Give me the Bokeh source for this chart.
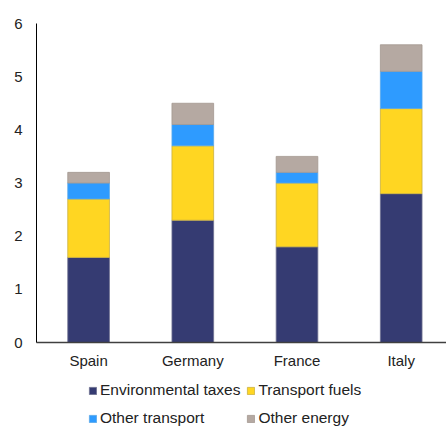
from bokeh.plotting import figure
from bokeh.layouts import column
from bokeh.models import ColumnDataSource, Range1d, FixedTicker, Legend, LegendItem
from bokeh.embed import file_html
from bokeh.resources import INLINE

countries = ["Spain", "Germany", "France", "Italy"]
env_taxes = [1.6, 2.3, 1.8, 2.8]
transport_fuels = [1.1, 1.4, 1.2, 1.6]
other_transport = [0.3, 0.4, 0.2, 0.7]
other_energy = [0.2, 0.4, 0.3, 0.5]
series = ["Environmental taxes", "Transport fuels", "Other transport", "Other energy"]
colors = ["#353B72", "#FFD622", "#2E9BFF", "#B5A9A2"]
line_colors = ["#6E7190", "#C9B040", "#5AA8E8", "#A39890"]
y_ticks = [0, 1, 2, 3, 4, 5, 6]

xpos = list(range(len(countries)))
src = ColumnDataSource(dict(x=xpos, env=env_taxes, fuels=transport_fuels,
                            otr=other_transport, oen=other_energy))

p = figure(width=446, height=371, output_backend="svg", toolbar_location=None,
           x_range=Range1d(-0.5, -0.5 + 410 / 104.2), y_range=Range1d(0, 6),
           min_border_left=36, min_border_right=0, min_border_top=23,
           min_border_bottom=29)

renderers = p.vbar_stack(["env", "fuels", "otr", "oen"], x="x", width=0.4,
                         source=src, color=colors, line_color=line_colors,
                         line_width=0.8)
for r, lc in zip(renderers, line_colors):
    r.glyph.line_color = lc

p.xgrid.visible = False
p.ygrid.visible = False
p.outline_line_color = None
p.background_fill_color = "white"
p.border_fill_color = "white"

font = "Liberation Sans"
ya = p.yaxis[0]
ya.ticker = FixedTicker(ticks=y_ticks)
ya.axis_line_color = "#000000"
ya.axis_line_width = 1
ya.major_tick_line_color = None
ya.minor_tick_line_color = None
ya.major_tick_out = 0
ya.major_tick_in = 0
ya.major_label_standoff = 14
ya.major_label_text_font = font
ya.major_label_text_font_size = "15px"
ya.major_label_text_color = "#222222"

xa = p.xaxis[0]
xa.ticker = FixedTicker(ticks=xpos)
xa.major_label_overrides = {i: c for i, c in enumerate(countries)}
xa.axis_line_color = "#404040"
xa.axis_line_width = 1.3
xa.major_tick_line_color = None
xa.minor_tick_line_color = None
xa.major_tick_out = 0
xa.major_tick_in = 0
xa.major_label_standoff = 9
xa.major_label_text_font = font
xa.major_label_text_font_size = "15px"
xa.major_label_text_color = "#222222"

# legend panel below the chart
lp = figure(width=446, height=58, output_backend="svg", toolbar_location=None,
            x_range=Range1d(0, 1), y_range=Range1d(0, 1),
            x_axis_location=None, y_axis_location=None,
            min_border=0)
lp.xgrid.visible = False
lp.ygrid.visible = False
lp.outline_line_color = None
offscreen = ColumnDataSource(dict(x=[10], top=[0.5]))
leg_renderers = [lp.vbar(x="x", top="top", width=0.1, source=offscreen,
                         fill_color=c, line_color=lc, line_width=0.8)
                 for c, lc in zip(colors, line_colors)]

items = [LegendItem(label=s, renderers=[r]) for s, r in zip(series, leg_renderers)]
legend = Legend(items=items, orientation="horizontal", ncols=2,
                location=(52, 0), padding=0, margin=0,
                glyph_width=9, glyph_height=9, label_standoff=3,
                spacing=6, label_height=22,
                label_text_font=font, label_text_font_size="15.5px",
                label_text_color="#222222",
                border_line_color=None, background_fill_alpha=0)
lp.add_layout(legend, "center")

layout = column(p, lp, spacing=0)
open("out.html", "w").write(file_html(layout, INLINE))
